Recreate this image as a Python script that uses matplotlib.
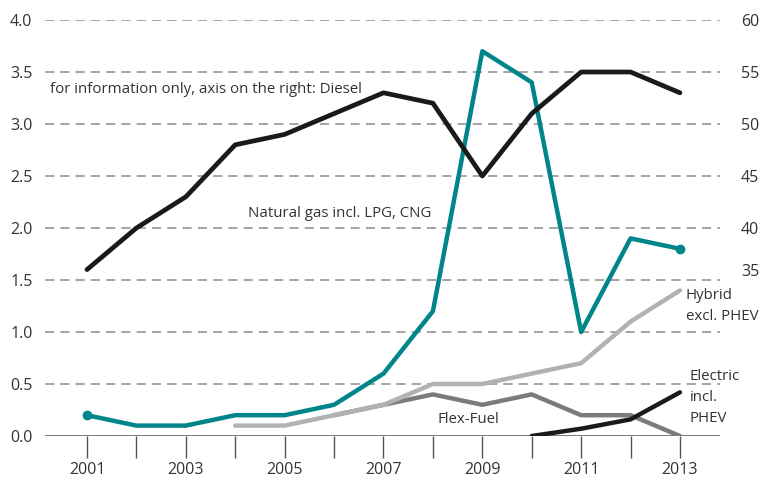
import matplotlib.pyplot as plt

plt.rcParams['font.family'] = ['Open Sans', 'DejaVu Sans']

years = list(range(2001, 2014))

natural_gas = [0.2, 0.1, 0.1, 0.2, 0.2, 0.3, 0.6, 1.2, 3.7, 3.4, 1.0, 1.9, 1.8]

hybrid_years = list(range(2004, 2014))
hybrid = [0.1, 0.1, 0.2, 0.3, 0.5, 0.5, 0.6, 0.7, 1.1, 1.4]

flex_years = list(range(2006, 2014))
flex_fuel = [0.2, 0.3, 0.4, 0.3, 0.4, 0.2, 0.2, 0.0]

electric_years = [2010, 2011, 2012, 2013]
electric = [0.0, 0.07, 0.16, 0.42]

# diesel is on the right axis
diesel = [36, 40, 43, 48, 49, 51, 53, 52, 45, 51, 55, 55, 53]

left_ticks = [0.0, 0.5, 1.0, 1.5, 2.0, 2.5, 3.0, 3.5, 4.0]
right_ticks = [35, 40, 45, 50, 55, 60]

teal = '#00858a'
text_col = '#333333'

fig = plt.figure(figsize=(7.64, 4.79), dpi=100)
ax = fig.add_axes([45 / 764, 1 - 436 / 479, 675 / 764, 416 / 479])

ax.set_ylim(0, 4.0)
ax.set_xlim(2000.15, 2013.81)

for t in left_ticks[1:]:
    ax.axhline(t, color='#8c8c8c', lw=1.1, ls=(0, (6, 4)), zorder=1)
ax.axhline(0, color='#555555', lw=1.1, zorder=1)

ax.plot(flex_years, flex_fuel, color='#7b7b7e', lw=3.2, zorder=3, solid_capstyle='round')
ax.plot(hybrid_years, hybrid, color='#b2b2b4', lw=3.2, zorder=4, solid_capstyle='round')
ax.plot(electric_years, electric, color='#1a1a1a', lw=3.2, zorder=5, solid_capstyle='round')
ax.plot(years, natural_gas, color=teal, lw=3.2, zorder=6, solid_capstyle='round')
ax.plot([years[0], years[-1]], [natural_gas[0], natural_gas[-1]], 'o', color=teal, ms=6, zorder=6)

ax2 = ax.twinx()
ax2.set_ylim(20, 60)
ax2.plot(years, diesel, color='#1a1a1a', lw=3.4, zorder=5, solid_capstyle='round')

for a in (ax, ax2):
    for s in a.spines.values():
        s.set_visible(False)

ax.set_yticks(left_ticks)
ax.set_yticklabels([f'{t:.1f}' for t in left_ticks])
ax.tick_params(axis='y', length=0, pad=9, labelsize=11.5, labelcolor=text_col)

ax2.set_yticks(right_ticks)
ax2.tick_params(axis='y', length=0, pad=15, labelsize=11.5, labelcolor=text_col)
# the lowest right label sits a little above its line
ax2.get_yticklabels()[0].set_verticalalignment('bottom')

ax.set_xticks(years)
ax.set_xticklabels([str(y) if y % 2 == 1 else '' for y in years])
ax.tick_params(axis='x', length=16, width=1, color='#555555', pad=3,
               labelsize=11.5, labelcolor=text_col)

ax.text(2000.25, 3.33, 'for information only, axis on the right: Diesel',
        fontsize=10.8, color=text_col, va='center')
ax.text(2004.25, 2.14, 'Natural gas incl. LPG, CNG', fontsize=10.8, color=text_col, va='center')
ax.text(2008.1, 0.16, 'Flex-Fuel', fontsize=10.8, color=text_col, va='center')
ax.text(2013.12, 1.25, 'Hybrid\nexcl. PHEV', fontsize=10.8, color=text_col, va='center',
        linespacing=1.55)
ax.text(2013.2, 0.37, 'Electric\nincl.\nPHEV', fontsize=10.8, color=text_col, va='center',
        linespacing=1.55)

fig.savefig('out.png', dpi=100)
